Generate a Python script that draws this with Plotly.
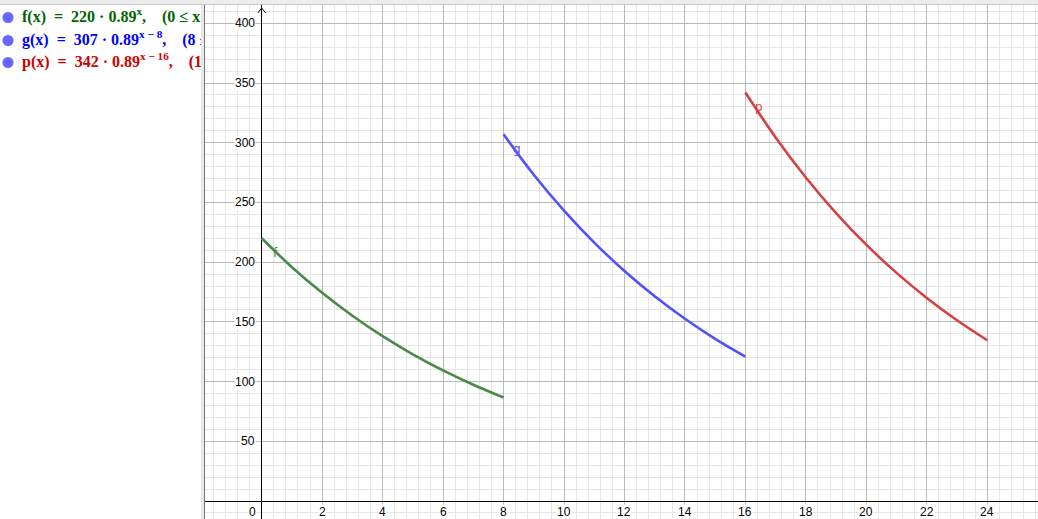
import plotly.graph_objects as go

# ---- data ----
x_f = [0, 1, 2, 3, 4, 5, 6, 7, 8]
y_f = [220, 195.8, 174.3, 155.1, 138.0, 122.8, 109.3, 97.3, 86.6]
x_g = [8, 9, 10, 11, 12, 13, 14, 15, 16]
y_g = [307, 273.2, 243.2, 216.4, 192.6, 171.4, 152.6, 135.8, 120.9]
x_p = [16, 17, 18, 19, 20, 21, 22, 23, 24]
y_p = [342, 304.4, 270.9, 241.1, 214.6, 191.0, 170.0, 151.3, 134.6]

x_ticks = [2, 4, 6, 8, 10, 12, 14, 16, 18, 20, 22, 24]
y_ticks = [50, 100, 150, 200, 250, 300, 350, 400]

curve_names = ["f", "g", "p"]
S = "\u00a0"
algebra_rows = [
    f"<b>f(x){S*2}={S*2}220{S}·{S}0.89<sup>x</sup>,{S*4}(0{S}≤{S}x{S}≤{S}8)</b>",
    f"<b>g(x){S*2}={S*2}307{S}·{S}0.89<sup>x{S}−{S}8</sup>,{S*4}(8{S}≤{S}x{S}≤{S}16)</b>",
    f"<b>p(x){S*2}={S*2}342{S}·{S}0.89<sup>x{S}−{S}16</sup>,{S*4}(16{S}≤{S}x{S}≤{S}24)</b>",
]

line_colors = ["rgb(72,138,72)", "rgb(80,80,255)", "rgb(214,64,64)"]
text_colors = ["rgb(0,100,0)", "rgb(0,0,255)", "rgb(204,0,0)"]

W, H = 1038, 519
TOP = 5
LEFT_END = 201
GRAPH_START = 205
X0_PX, X_SCALE = 261.7, 30.23
Y0_PX, Y_SCALE = 501.0, 1.1943

x_min = (GRAPH_START - X0_PX) / X_SCALE
x_max = (W - X0_PX) / X_SCALE
y_max = (Y0_PX - TOP) / Y_SCALE
y_min = (Y0_PX - H) / Y_SCALE

fig = go.Figure()

series = [(x_f, y_f), (x_g, y_g), (x_p, y_p)]
for (xs, ys), col, name in zip(series, line_colors, curve_names):
    fig.add_trace(go.Scatter(x=xs, y=ys, mode="lines", line=dict(color=col, width=2.6, shape="spline"),
                             name=name, showlegend=False, hoverinfo="skip", xaxis="x", yaxis="y"))

# curve labels
for (xs, ys), col, name in zip(series, line_colors, curve_names):
    fig.add_annotation(x=xs[0] + 0.45, y=ys[0] - 12, text=name, showarrow=False,
                       font=dict(family="DejaVu Sans", size=12, color=col), xref="x", yref="y")

# algebra panel (left) as clipped text
row_y = [12.5, 35.5, 57.5]
fig.add_trace(go.Scatter(x=[8, 8, 8], y=row_y, mode="markers",
                         marker=dict(color="rgb(102,102,255)", size=11),
                         showlegend=False, hoverinfo="skip", xaxis="x2", yaxis="y2"))
fig.add_trace(go.Scatter(x=[22, 22, 22], y=row_y, mode="text", text=algebra_rows,
                         textposition="middle right",
                         textfont=dict(family="Liberation Serif", size=16, color=text_colors),
                         showlegend=False, hoverinfo="skip", xaxis="x2", yaxis="y2", cliponaxis=True))

# axis tick labels
for xv in x_ticks:
    fig.add_annotation(x=xv, y=-9.3, text=str(xv), showarrow=False, xref="x", yref="y",
                       font=dict(family="Liberation Sans", size=12, color="black"),
                       bgcolor="white", borderpad=0)
fig.add_annotation(x=-0.32, y=-9.3, text="0", showarrow=False, xref="x", yref="y",
                   font=dict(family="Liberation Sans", size=12, color="black"),
                   bgcolor="white", borderpad=0)
for yv in y_ticks:
    fig.add_annotation(x=-0.19, y=yv, text=str(yv), showarrow=False, xref="x", yref="y",
                       xanchor="right", font=dict(family="Liberation Sans", size=12, color="black"),
                       bgcolor="white", borderpad=0)

shapes = []
# y-axis arrow head
ax_dx = 4 / X_SCALE
top_y = (Y0_PX - 8) / Y_SCALE
arr_y = (Y0_PX - 13) / Y_SCALE
shapes.append(dict(type="line", xref="x", yref="y", x0=0, y0=top_y, x1=-ax_dx, y1=arr_y,
                   line=dict(color="black", width=1)))
shapes.append(dict(type="line", xref="x", yref="y", x0=0, y0=top_y, x1=ax_dx, y1=arr_y,
                   line=dict(color="black", width=1)))
# divider between panels
ph = H - TOP
shapes.append(dict(type="rect", xref="paper", yref="paper", x0=LEFT_END / W, x1=(GRAPH_START - 1) / W,
                   y0=0, y1=1, fillcolor="rgb(232,232,232)", line=dict(width=0), layer="above"))
shapes.append(dict(type="line", xref="paper", yref="paper", x0=(GRAPH_START - 0.5) / W, x1=(GRAPH_START - 0.5) / W,
                   y0=0, y1=1, line=dict(color="rgb(120,120,120)", width=1), layer="above"))
# header strip
shapes.append(dict(type="rect", xref="paper", yref="paper", x0=0, x1=1, y0=1, y1=1 + TOP / ph,
                   fillcolor="rgb(236,236,236)", line=dict(width=0)))
shapes.append(dict(type="line", xref="paper", yref="paper", x0=0, x1=1, y0=1 + 0.5 / ph, y1=1 + 0.5 / ph,
                   line=dict(color="rgb(200,200,200)", width=1)))

fig.update_layout(
    width=W, height=H,
    margin=dict(l=0, r=0, t=TOP, b=0),
    paper_bgcolor="white", plot_bgcolor="white",
    showlegend=False,
    shapes=shapes,
    xaxis=dict(domain=[GRAPH_START / W, 1], range=[x_min, x_max], tick0=0, dtick=2,
               showgrid=True, gridcolor="rgb(185,185,185)", gridwidth=1,
               minor=dict(tick0=0, dtick=0.4, showgrid=True, gridcolor="rgb(230,230,230)", gridwidth=1),
               zeroline=True, zerolinecolor="black", zerolinewidth=1.2,
               showticklabels=False, ticks="", fixedrange=True),
    yaxis=dict(domain=[0, 1], range=[y_min, y_max], tick0=0, dtick=50,
               showgrid=True, gridcolor="rgb(185,185,185)", gridwidth=1,
               minor=dict(tick0=0, dtick=10, showgrid=True, gridcolor="rgb(230,230,230)", gridwidth=1),
               zeroline=True, zerolinecolor="black", zerolinewidth=1.2,
               showticklabels=False, ticks="", fixedrange=True),
    xaxis2=dict(domain=[0, LEFT_END / W], range=[0, LEFT_END], visible=True, showgrid=False,
                zeroline=False, showticklabels=False, ticks="", showline=False, fixedrange=True),
    yaxis2=dict(domain=[0, 1], range=[H - TOP, 0], anchor="x2", showgrid=False, zeroline=False,
                showticklabels=False, ticks="", showline=False, fixedrange=True),
)

fig.write_html("out.html", config={"displayModeBar": False},
               post_script="document.body.style.margin='0';document.body.style.padding='0';"
                           "document.body.style.overflow='hidden';")
